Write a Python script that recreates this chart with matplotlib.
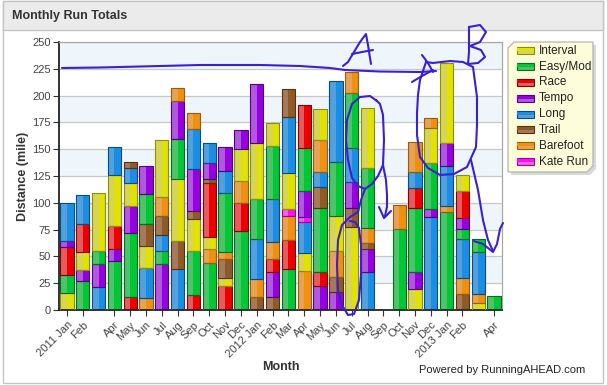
import numpy as np
import matplotlib.pyplot as plt
from matplotlib.patches import Rectangle, Polygon
from matplotlib.lines import Line2D

plt.rcParams['font.family'] = ['Liberation Sans', 'DejaVu Sans']

# --- data (miles per month, Jan 2011 .. Apr 2013) ---
tick_labels = ['2011 Jan', 'Feb', '', 'Apr', 'May', 'Jun', 'Jul', 'Aug', 'Sep', 'Oct', 'Nov', 'Dec',
               '2012 Jan', 'Feb', 'Mar', 'Apr', 'May', 'Jun', 'Jul', 'Aug', 'Sep', 'Oct', 'Nov', 'Dec',
               '2013 Jan', 'Feb', '', 'Apr']

categories = ['Interval', 'Easy/Mod', 'Race', 'Tempo', 'Long', 'Trail', 'Barefoot', 'Kate Run']

interval = [15.5, 16.5, 53.5, 47.5, 21.5, 20.2, 53.2, 57.9, 29.9, 11.8, 7.8, 29.9,
            52.2, 21.1, 34.2, 16.8, 28.6, 33.3, 77.7, 55.9, 0, 0, 19.3, 32,
            74, 14.3, 6.8, 0]
easy = [17, 27.4, 12.4, 46, 59.6, 28, 12.4, 37.3, 41.6, 44.2, 55.7, 73.4,
        37.3, 49.1, 38.6, 40.1, 59, 50.4, 51.3, 56, 0, 75.6, 60.3, 43.2,
        91.7, 9.3, 12.7, 12.7]
race = [26, 26, 0, 22, 12.4, 0, 0, 0, 13.7, 49.8, 22.4, 26.1,
        0, 12.8, 26.4, 39.5, 13.1, 0, 0, 0, 0, 0, 18.7, 0,
        0, 25.8, 0, 0]
tempo = [6, 10, 22, 10.6, 25.3, 26.7, 42.6, 35.5, 38.5, 14.9, 22.4, 17.7,
         54.4, 22.7, 0, 24.2, 22.7, 17.1, 24.9, 20.8, 0, 0, 15.9, 7.8,
         21.8, 10.3, 0, 0]
long_run = [35, 27, 21, 26, 13.2, 28.6, 15.3, 37.9, 37.3, 18.1, 20.5, 0,
            37.6, 40.5, 52.2, 29.5, 13.4, 74.9, 31.1, 35.8, 0, 0, 14.9, 86.4,
            37, 35.7, 38.9, 0]
trail = [0, 0, 0, 0, 6.4, 20.2, 17.7, 26.1, 7.5, 4.3, 17.1, 0,
         12.4, 12.4, 25.5, 0, 20.2, 14, 17.1, 5.6, 0, 0, 0, 0,
         0, 14.9, 0, 0]
barefoot = [0, 0, 0, 0, 0, 10.9, 17.4, 12.7, 15.3, 12.4, 6.5, 20.5,
            16.5, 15.5, 23, 36.1, 30.2, 23.6, 19.6, 14.6, 0, 22, 28, 10,
            5.6, 15.3, 8.1, 0]
kate = [0] * 14 + [5.9, 4.7] + [0] * 12

# stacking order of the categories (bottom -> top), index into categories
stack_order = ['01234', '13024', '4310', '13204', '213045', '640513', '314560', '450136',
               '2105346', '1602534', '2056143', '12603', '564103', '5326410', '1267045', '6047312',
               '3215460', '356014', '053416', '435610', '', '16', '031246', '43106',
               '16430', '5641320', '0641', '1']

values = [interval, easy, race, tempo, long_run, trail, barefoot, kate]
light = ['#d4d45e', '#52c06c', '#de5f5f', '#ad5bd8', '#569fd8', '#a57a5c', '#e4a35a', '#ef66e2']
sat = ['#e2e200', '#00c835', '#ee0000', '#9600e0', '#1a8ee4', '#8f5a26', '#f0900c', '#ff10f0']
edge = ['#8f8f00', '#00701c', '#8a0000', '#560088', '#00508e', '#55320f', '#9a5c08', '#a000a0']

W, H = 607, 385
fig = plt.figure(figsize=(W / 100, H / 100), dpi=100)


def fpt(x, y):
    return x / W, 1 - y / H


# panel frame and header
fig.patches.append(Rectangle(fpt(3, 383), 600 / W, 382 / H, transform=fig.transFigure,
                             facecolor='white', edgecolor='#c4c4c4', lw=1, zorder=-5))
fig.patches.append(Rectangle(fpt(3, 30), 600 / W, 29 / H, transform=fig.transFigure,
                             facecolor='#ebebeb', edgecolor='#c4c4c4', lw=1, zorder=-4))
fig.text(*fpt(12, 16), 'Monthly Run Totals', fontsize=9, fontweight='bold', color='#333333',
         va='center', ha='left')

ax = fig.add_axes([59 / W, 1 - 310 / H, 443 / W, 268 / H])
ax.set_facecolor('white')
for lo in range(25, 250, 50):
    ax.axhspan(lo, lo + 25, color='#eef6fc', zorder=0, lw=0)
ax.yaxis.grid(True, color='#c8c8c8', lw=0.9, zorder=0.5)
ax.set_axisbelow(True)

bw = 0.84
for m, order in enumerate(stack_order):
    bottom = 0
    for ch in order:
        c = int(ch)
        v = values[c][m]
        ax.bar(m, v, bw, bottom=bottom, color=light[c], lw=0, zorder=2)
        ax.bar(m + bw / 4, v, bw / 2, bottom=bottom, color=sat[c], lw=0, zorder=2)
        ax.bar(m, v, bw, bottom=bottom, facecolor='none', edgecolor=edge[c], lw=0.8, zorder=3)
        bottom += v

ax.set_xlim(-0.5, 27.5)
ax.set_ylim(0, 250)
ax.set_yticks(np.arange(0, 251, 25))
ticks = [i for i, t in enumerate(tick_labels) if t]
ax.set_xticks(ticks)
ax.set_xticklabels([tick_labels[i] for i in ticks], rotation=45, ha='right',
                   rotation_mode='anchor', fontsize=8, color='#444444')
ax.tick_params(axis='y', labelsize=8, labelcolor='#444444', length=4, pad=2, color='#333333')
ax.tick_params(axis='x', length=4, pad=3, color='#333333')
for s in ['left', 'bottom']:
    ax.spines[s].set_color('#222222')
    ax.spines[s].set_linewidth(1.3)
for s in ['top', 'right']:
    ax.spines[s].set_color('#a8a8a8')
    ax.spines[s].set_linewidth(0.9)

ax.set_ylabel('Distance (mile)', fontsize=9, fontweight='bold', color='#333333', labelpad=2)
ax.set_xlabel('Month', fontsize=9, fontweight='bold', color='#333333', labelpad=1)

fig.text(*fpt(585, 370), 'Powered by RunningAHEAD.com', fontsize=8, color='#222222',
         ha='right', va='center')

# legend
box = [(514, 42), (593, 42), (593, 166), (587, 172), (508, 172), (508, 48)]
fig.patches.append(Polygon([fpt(x + 3, y + 3) for x, y in box], closed=True,
                           transform=fig.transFigure, facecolor='#d9d9d9', lw=0, zorder=5))
fig.patches.append(Polygon([fpt(x, y) for x, y in box], closed=True, transform=fig.transFigure,
                           facecolor='#fdfdd9', edgecolor='#b4b4b4', lw=0.9, zorder=6))
for i, name in enumerate(categories):
    yc = 50.7 + i * 15.85
    fig.patches.append(Rectangle(fpt(517, yc + 3.5), 17 / W, 7 / H, transform=fig.transFigure,
                                 facecolor=light[i], edgecolor=edge[i], lw=0.8, zorder=7))
    fig.patches.append(Rectangle(fpt(517, yc + 0.5), 17 / W, 3 / H, transform=fig.transFigure,
                                 facecolor=sat[i], lw=0, zorder=7))
    fig.text(*fpt(539, yc), name, fontsize=8.5, color='#222222', va='center', ha='left', zorder=8)

# hand-drawn ink annotations (image pixel coordinates)
strokes = [
    [(62, 68), (100, 67.5), (140, 66.5), (200, 65), (260, 65), (300, 66), (330, 68),
     (345, 70), (380, 71.5), (420, 72), (436, 71)],
    # A
    [(343, 66), (348, 62), (354, 52), (360, 42), (366, 34), (368, 45), (370, 58), (371, 64)],
    [(352, 54), (362, 52), (373, 50)],
    # loop around Jul 2012 top with arrow
    [(377, 101), (370, 96), (360, 97), (352, 104), (347, 120), (346, 140), (348, 160),
     (352, 178), (358, 186), (365, 189), (372, 184), (378, 176), (383, 165), (384, 140),
     (383, 115), (380, 104), (376, 100)],
    [(383, 165), (386, 180), (387, 195), (387, 207), (385, 216)],
    [(379, 207), (384, 218), (391, 211)],
    # lower loop around Jul 2012 interval
    [(365, 189), (361, 200), (358, 212), (350, 217), (342, 225), (338, 240), (337, 265),
     (338, 290), (342, 305), (348, 315), (354, 314), (359, 300), (361, 275), (361, 245),
     (359, 228), (355, 222), (350, 221)],
    # cross and B
    [(412, 82), (422, 76), (433, 70)],
    [(422, 55), (428, 63), (433, 72)],
    [(469, 27), (469, 40), (469, 52), (468, 64)],
    [(469, 27), (480, 25), (486, 32), (480, 42), (470, 46), (481, 50), (485, 57), (478, 63), (468, 64)],
    # loop around Jan 2013
    [(426, 62), (433, 63), (450, 61), (463, 62), (473, 67), (477, 97), (477, 125), (476, 147),
     (467, 167), (454, 174), (440, 175), (428, 168), (420, 157), (417, 135), (417, 113),
     (418, 95), (420, 80), (426, 62)],
    [(471, 160), (478, 190), (483, 220), (488, 240), (493, 251)],
    [(474, 241), (483, 244), (493, 252), (497, 244), (500, 229), (503, 223)],
]
for s in strokes:
    xs, ys = zip(*[fpt(x, y) for x, y in s])
    fig.lines.append(Line2D(xs, ys, transform=fig.transFigure, color='#3b1fd2', lw=1.5,
                            solid_capstyle='round', solid_joinstyle='round', zorder=10))

fig.savefig('out.png', dpi=100)
